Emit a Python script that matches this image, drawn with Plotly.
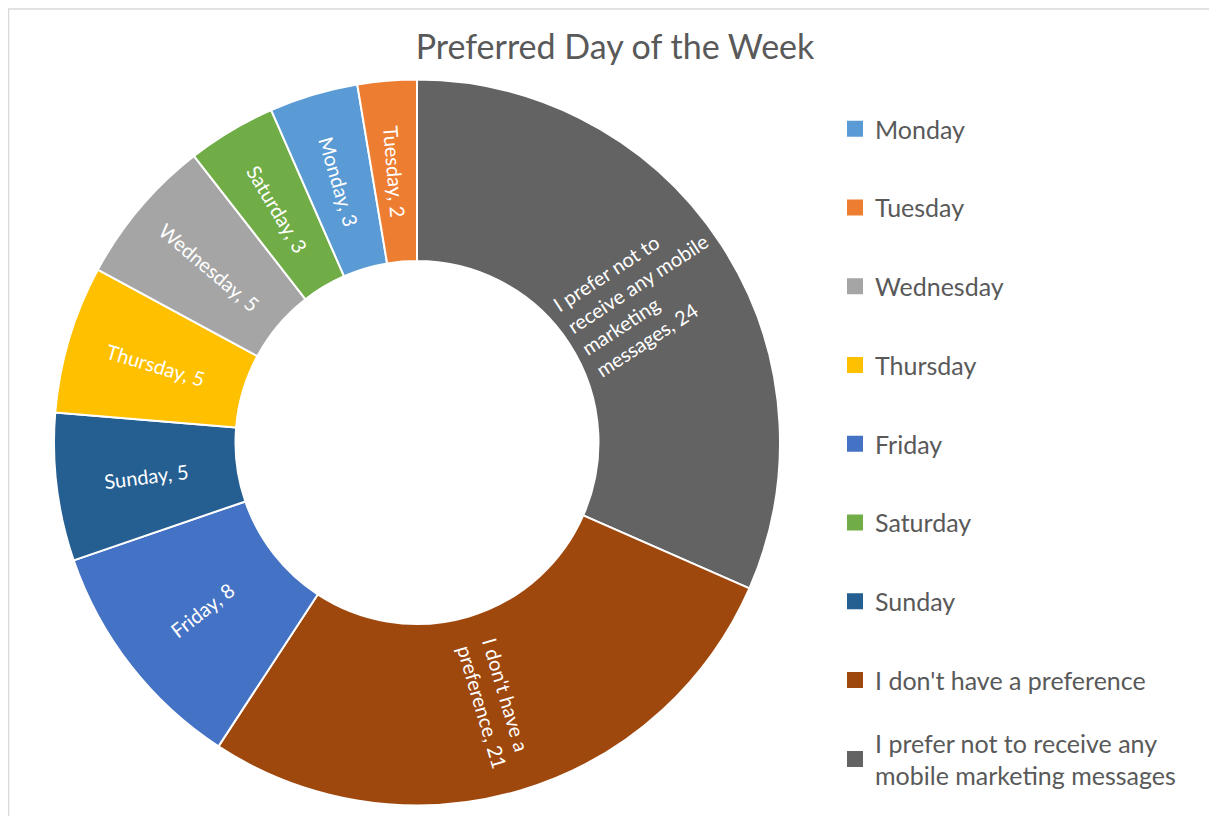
import math
import textwrap
import plotly.graph_objects as go

title_text = "Preferred Day of the Week"
categories = ["Monday", "Tuesday", "Wednesday", "Thursday", "Friday", "Saturday",
              "Sunday", "I don't have a preference",
              "I prefer not to receive any mobile marketing messages"]
values = [3, 2, 5, 5, 8, 3, 5, 21, 24]
colors = ["#5B9BD5", "#ED7D31", "#A5A5A5", "#FFC000", "#4472C4", "#70AD47",
          "#255E91", "#9E480E", "#636363"]

FONT = "Lato"
TEXT_GREY = "#595959"
W, H = 1209, 808          # figure size (page body adds an 8px offset)

# donut geometry in figure pixels
CX, CY, R_OUT, HOLE = 409, 434.5, 363, 0.5
R_LABEL = R_OUT * (1 + HOLE) / 2


def px(x):
    return x / W


def py(y):
    return 1 - y / H


# slices clockwise from 12 o'clock: reverse of a stable ascending sort by value
order = list(reversed(sorted(range(len(values)), key=lambda i: values[i])))
pie_labels = [categories[i] for i in order]
pie_values = [values[i] for i in order]
pie_colors = [colors[i] for i in order]

fig = go.Figure()
fig.add_trace(go.Pie(
    labels=pie_labels, values=pie_values, textinfo="none",
    sort=False, direction="clockwise", rotation=0, hole=HOLE,
    marker=dict(colors=pie_colors, line=dict(color="white", width=2)),
    showlegend=False, hoverinfo="skip",
    domain=dict(x=[px(CX - R_OUT), px(CX + R_OUT)], y=[py(CY + R_OUT), py(CY - R_OUT)]),
))

# radial data labels placed at the middle of each slice
total = sum(pie_values)
annotations = []
cum = 0
for lab, val in zip(pie_labels, pie_values):
    theta = 360 * (cum + val / 2) / total         # clockwise from top
    cum += val
    x = CX + R_LABEL * math.sin(math.radians(theta))
    y = CY - R_LABEL * math.cos(math.radians(theta))
    ang = theta - 90
    if ang > 90:
        ang -= 180
    annotations.append(dict(
        x=px(x), y=py(y), xref="paper", yref="paper", showarrow=False,
        xanchor="center", yanchor="middle",
        text="<br>".join(textwrap.wrap(f"{lab}, {val}", 18)),
        textangle=ang, align="left",
        font=dict(family=FONT, size=20, color="white"),
    ))

# legend entries (legend order), each in its own legend box
legend_layouts = {}
for k, (cat, col) in enumerate(zip(categories, colors)):
    name = "legend" if k == 0 else f"legend{k + 1}"
    fig.add_trace(go.Scatter(
        x=[None], y=[None], mode="markers",
        marker=dict(symbol="square", size=16, color=col),
        name="<br>".join(textwrap.wrap(cat, 27)),
        legend=name, showlegend=True, hoverinfo="skip",
    ))
    yc = 121 + k * 78.75
    legend_layouts[name] = dict(
        x=px(827), xanchor="left", y=py(yc), yanchor="middle",
        font=dict(family=FONT, size=25, color=TEXT_GREY),
        bgcolor="rgba(0,0,0,0)", borderwidth=0, itemsizing="trace",
    )

fig.update_layout(
    width=W, height=H,
    margin=dict(l=0, r=0, t=0, b=0),
    paper_bgcolor="white", plot_bgcolor="white",
    title=dict(text=title_text, x=px(607), xanchor="center", y=py(39), yanchor="middle",
               font=dict(family=FONT, size=34, color=TEXT_GREY)),
    xaxis=dict(visible=False), yaxis=dict(visible=False),
    annotations=annotations,
    shapes=[dict(type="rect", xref="paper", yref="paper",
                 x0=px(0.5), x1=px(W + 5), y0=py(H + 5), y1=py(1),
                 line=dict(color="#D9D9D9", width=1.5), fillcolor="rgba(0,0,0,0)")],
    **legend_layouts,
)

fig.write_html("out.html")
